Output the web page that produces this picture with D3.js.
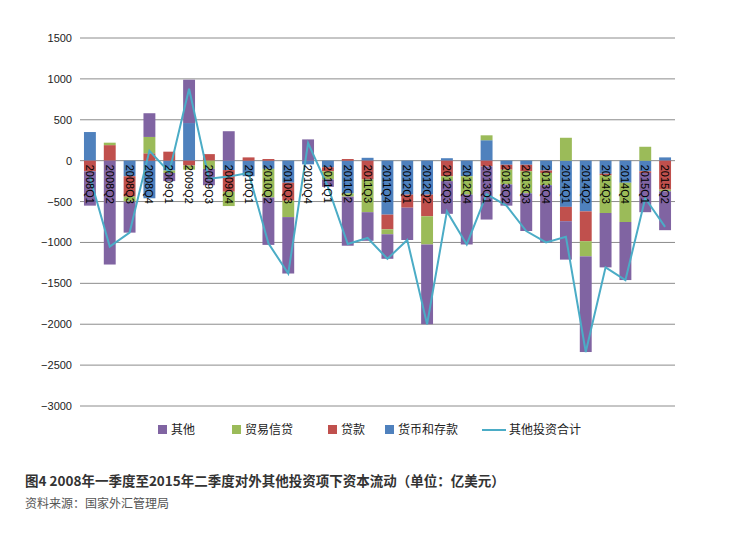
<!DOCTYPE html>
<html>
<head>
<meta charset="utf-8">
<script src="https://cdn.jsdelivr.net/npm/d3@7"></script>
<style>
body { margin: 0; background: #fff; font-family: "Noto Sans CJK SC", "Liberation Sans", sans-serif; }
</style>
</head>
<body>
<svg id="chart" width="736" height="541"></svg>
<script>
const quarters = ['2008Q1','2008Q2','2008Q3','2008Q4','2009Q1','2009Q2','2009Q3','2009Q4','2010Q1','2010Q2',
  '2010Q3','2010Q4','2011Q1','2011Q2','2011Q3','2011Q4','2012Q1','2012Q2','2012Q3','2012Q4',
  '2013Q1','2013Q2','2013Q3','2013Q4','2014Q1','2014Q2','2014Q3','2014Q4','2015Q1','2015Q2']

// 亿美元
const other   = [-420,-1270,-380,290,-100,530,-200,360,0,-580, -690,260,-90,-600,-350,-300,-395,-975,-400,-610, -650,-260,-460,-700,-470,-1170,-665,-710,-480,-475]
const trade   = [0,30,-60,200,-30,-50,-100,-175,0,-350, -200,0,-100,-40,-400,-60,0,-345,-60,-225, 60,-180,-270,-150,280,-185,-460,-480,170,-20]
const loans   = [-130,190,-250,90,110,-60,80,-265,40,20, -220,0,-50,20,-230,-180,-160,-265,-190,0, -70,-60,-80,-30,-175,-365,-20,0,-20,-355]
const deposit = [350,0,-190,-460,-120,460,0,-115,-190,-100, -270,-45,-80,-400,35,-660,-415,-415,30,-190, 250,-50,-50,-120,-565,-620,-160,-270,-130,40]

const seriesNames = ['其他','贸易信贷','贷款','货币和存款']
const colors = ['#8064A2','#9BBB59','#C0504D','#4F81BD']
const lineColor = '#4BACC6'
const yTicks = [1500,1000,500,0,-500,-1000,-1500,-2000,-2500,-3000]

const svg = d3.select('#chart')
const plotLeft = 80, plotRight = 675, plotTop = 38, plotBottom = 406

const x = d3.scaleBand().domain(quarters).range([plotLeft, plotRight]).paddingInner(0.4).paddingOuter(0.2)
const y = d3.scaleLinear().domain([-3000, 1500]).range([plotBottom, plotTop])

svg.append('g').selectAll('line').data(yTicks).enter().append('line')
  .attr('x1', plotLeft).attr('x2', plotRight)
  .attr('y1', d => y(d)).attr('y2', d => y(d))
  .attr('stroke', '#8c8c8c').attr('stroke-width', 1)

svg.append('g').selectAll('text').data(yTicks).enter().append('text')
  .attr('x', 72).attr('y', d => y(d) + 4)
  .attr('text-anchor', 'end').attr('font-size', 11)
  .attr('font-family', 'Liberation Sans, sans-serif').attr('fill', '#222')
  .text(d => d < 0 ? '\u2212' + Math.abs(d) : d)

// stacking: deposit nearest the axis, then loans, trade, other
const data = [other, trade, loans, deposit]
const order = [3, 2, 1, 0]
quarters.forEach((q, i) => {
  let pos = 0, neg = 0
  order.forEach(s => {
    const v = data[s][i]
    if (v === 0) return
    let y0, y1
    if (v > 0) { y0 = pos; y1 = pos + v; pos = y1 } else { y0 = neg; y1 = neg + v; neg = y1 }
    svg.append('rect')
      .attr('x', x(q)).attr('width', x.bandwidth())
      .attr('y', y(Math.max(y0, y1)))
      .attr('height', Math.abs(y(y0) - y(y1)))
      .attr('fill', colors[s])
  })
})

const totals = quarters.map((q, i) => other[i] + trade[i] + loans[i] + deposit[i])
svg.append('path')
  .datum(totals)
  .attr('fill', 'none').attr('stroke', lineColor).attr('stroke-width', 2)
  .attr('d', d3.line().x((d, i) => x(quarters[i]) + x.bandwidth() / 2).y(d => y(d)))

svg.append('g').selectAll('text').data(quarters).enter().append('text')
  .attr('transform', d => `translate(${x(d) + x.bandwidth() / 2 - 4},${y(0) + 4}) rotate(90)`)
  .attr('font-size', 11).attr('font-family', 'Liberation Sans, sans-serif').attr('fill', '#000')
  .text(d => d)

// legend
const legend = svg.append('g').attr('font-size', 12).attr('fill', '#222')
const legX = [158, 232, 328, 385]
seriesNames.forEach((n, i) => {
  legend.append('rect').attr('x', legX[i]).attr('y', 425).attr('width', 9).attr('height', 9).attr('fill', colors[i])
  legend.append('text').attr('x', legX[i] + 13).attr('y', 434).text(n)
})
legend.append('line').attr('x1', 482).attr('x2', 506).attr('y1', 430).attr('y2', 430)
  .attr('stroke', lineColor).attr('stroke-width', 2)
legend.append('text').attr('x', 509).attr('y', 434).text('其他投资合计')

svg.append('text').attr('x', 25).attr('y', 486).attr('font-size', 13.5).attr('font-weight', 'bold').attr('fill', '#333')
  .text('图4  2008年一季度至2015年二季度对外其他投资项下资本流动（单位：亿美元）')
svg.append('text').attr('x', 25).attr('y', 508).attr('font-size', 12).attr('fill', '#555')
  .text('资料来源：国家外汇管理局')
</script>
</body>
</html>
